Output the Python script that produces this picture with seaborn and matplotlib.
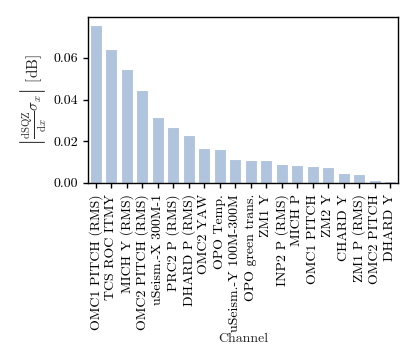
import matplotlib
matplotlib.use("Agg")
import matplotlib.pyplot as plt
import seaborn as sns
import pandas as pd

channels = [
    "OMC1 PITCH (RMS)", "TCS ROC ITMY", "MICH Y (RMS)", "OMC2 PITCH (RMS)",
    "uSeism.-X 300M-1", "PRC2 P (RMS)", "DHARD P (RMS)", "OMC2 YAW",
    "OPO Temp.", "uSeism.-Y 100M-300M", "OPO green trans.", "ZM1 Y",
    "INP2 P (RMS)", "MICH P", "OMC1 PITCH", "ZM2 Y", "CHARD Y",
    "ZM1 P (RMS)", "OMC2 PITCH", "DHARD Y",
]
values = [
    0.0760, 0.0641, 0.0547, 0.0448, 0.0318, 0.0269, 0.0230, 0.0167,
    0.0164, 0.0113, 0.0112, 0.0110, 0.0093, 0.0086, 0.0082, 0.0077,
    0.0048, 0.0043, 0.0016, 0.0010,
]

df = pd.DataFrame({"Channel": channels, "value": values})

sns.set_theme(style="ticks")
plt.rcParams["font.family"] = "serif"
plt.rcParams["font.serif"] = ["cmr10", "DejaVu Serif"]
plt.rcParams["mathtext.fontset"] = "cm"
plt.rcParams["axes.formatter.use_mathtext"] = True
plt.rcParams["axes.unicode_minus"] = False

fig = plt.figure(figsize=(4.15, 3.6), dpi=100)
ax = fig.add_axes([0.212, 0.492, 0.747, 0.461])
sns.barplot(data=df, x="Channel", y="value", color="lightsteelblue",
            saturation=1, edgecolor="white", linewidth=0.8, ax=ax)
ax.set_ylim(0, 0.0797)
ax.set_yticks([0, 0.02, 0.04, 0.06])
ax.set_yticklabels(["0.00", "0.02", "0.04", "0.06"], fontsize=10)
ax.tick_params(axis="x", labelrotation=90, labelsize=10, pad=4.5)
ax.tick_params(axis="y", pad=3.5)
ax.set_xlabel("Channel", fontsize=10, labelpad=1)
ax.set_ylabel(r"$\left|\frac{\mathrm{dSQZ}}{\mathrm{d}x}\sigma_x\right|$ [dB]", fontsize=11, labelpad=3)
for s in ax.spines.values():
    s.set_color("black")
    s.set_linewidth(1.0)
ax.tick_params(colors="black", length=3.5, width=1)
fig.savefig("out.png", dpi=100)
